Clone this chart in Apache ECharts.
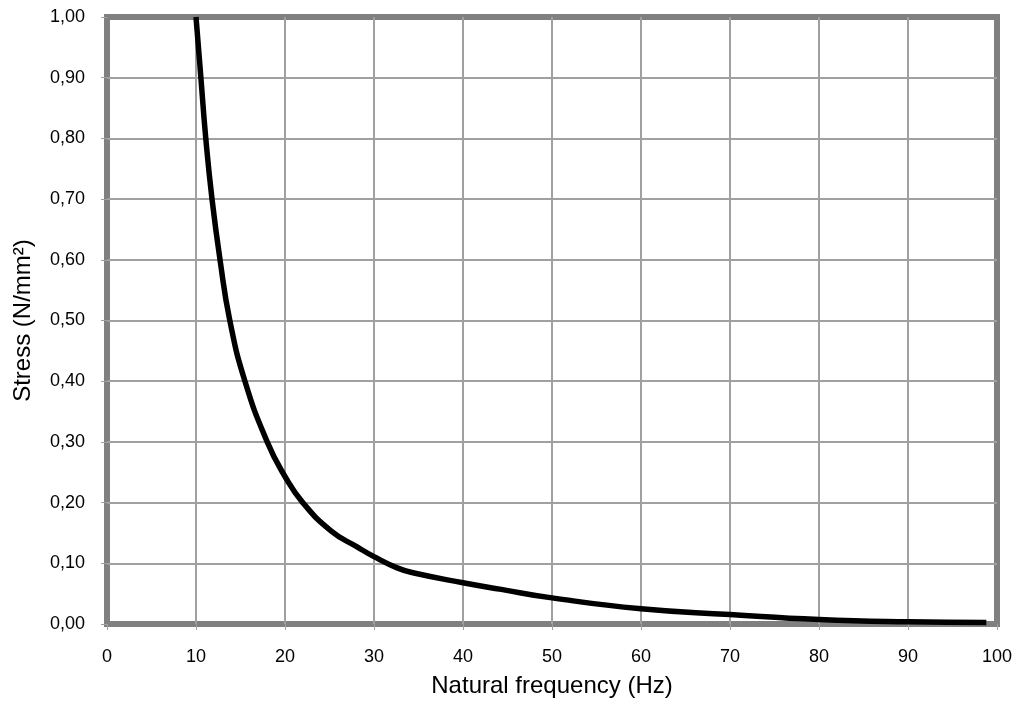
<!DOCTYPE html>
<html>
<head>
<meta charset="utf-8">
<script src="https://cdn.jsdelivr.net/npm/echarts@6/dist/echarts.min.js"></script>
<style>
html,body{margin:0;padding:0;background:#fff;}
#chart{width:1029px;height:704px;}
</style>
</head>
<body>
<div id="chart"></div>
<script>
// Data
var frequency = [10.0, 10.55, 11.1, 11.8, 12.7, 13.8, 15.5, 18.0, 20.0, 22.0, 25.2, 28.1, 30.0, 32.6, 34.5, 40.0, 44.3, 50.0, 60.0, 70.0, 80.0, 90.0, 98.8];
var stress    = [1.000, 0.900, 0.800, 0.700, 0.600, 0.500, 0.400, 0.300, 0.243, 0.200, 0.153, 0.127, 0.111, 0.0925, 0.084, 0.068, 0.057, 0.043, 0.025, 0.0156, 0.0074, 0.0036, 0.0025];
var xAxisTitle = 'Natural frequency (Hz)';
var yAxisTitle = 'Stress (N/mm²)';

var points = frequency.map(function (f, i) { return [f, stress[i]]; });

var chart = echarts.init(document.getElementById('chart'));
var fontFamily = '"Liberation Sans", Arial, sans-serif';
var gridLine = { show: true, showMinLine: false, showMaxLine: false, lineStyle: { color: '#a0a0a0', width: 2 } };
chart.setOption({
  animation: false,
  backgroundColor: '#ffffff',
  grid: {
    left: 107, right: 32, top: 17, bottom: 80,
    show: true, borderColor: '#808080', borderWidth: 6, backgroundColor: '#ffffff'
  },
  xAxis: {
    type: 'value', min: 0, max: 100, interval: 10,
    name: xAxisTitle, nameLocation: 'middle', nameGap: 50,
    nameTextStyle: { fontFamily: fontFamily, fontSize: 24, color: '#000' },
    axisLine: { show: false },
    axisTick: { show: true, length: 6, lineStyle: { color: '#a0a0a0', width: 1 } },
    axisLabel: { fontFamily: fontFamily, fontSize: 18, color: '#000', margin: 24 },
    splitLine: gridLine
  },
  yAxis: {
    type: 'value', min: 0, max: 1, interval: 0.1,
    name: yAxisTitle, nameLocation: 'middle', nameGap: 72,
    nameTextStyle: { fontFamily: fontFamily, fontSize: 24, color: '#000' },
    axisLine: { show: false },
    axisTick: { show: true, length: 6, lineStyle: { color: '#a0a0a0', width: 1 } },
    axisLabel: {
      fontFamily: fontFamily, fontSize: 18, color: '#000', margin: 22,
      formatter: function (v) { return v.toFixed(2).replace('.', ','); }
    },
    splitLine: gridLine
  },
  series: [{
    type: 'line',
    data: points,
    smooth: 0.5,
    showSymbol: false,
    lineStyle: { color: '#000000', width: 5.5 },
    z: 3
  }]
});
</script>
</body>
</html>
